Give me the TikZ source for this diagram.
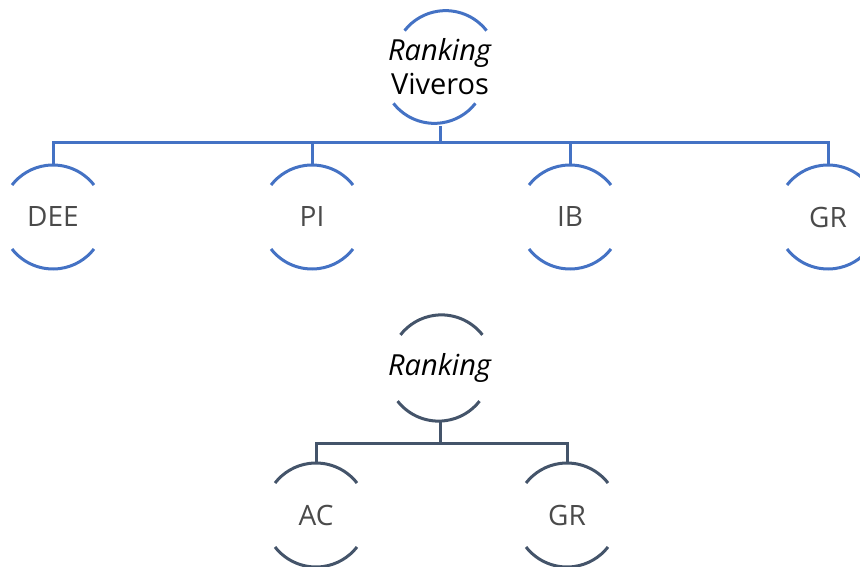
\documentclass[tikz,border=0pt]{standalone}
\usepackage{fontspec}
\setmainfont{Open Sans}
\newfontfamily\lightfont{Open Sans}[FakeBold=-0.6]
\definecolor{topblue}{HTML}{4472C4}
\definecolor{slate}{HTML}{44546A}
\definecolor{lbl}{HTML}{4A4A4A}
\tikzset{
  arcnode/.style={circle, minimum size=104pt, inner sep=0pt, outer sep=0pt},
  parentlbl/.style={font=\fontsize{29}{34}\selectfont, text=black, align=center},
  childlbl/.style={font=\lightfont\fontsize{28}{32}\selectfont, text=lbl},
  bluepen/.style={draw=topblue, line width=3pt},
  slatepen/.style={draw=slate, line width=3pt},
}
\newcommand{\arcpair}[2]{%
  \draw[#2] (#1.38) arc[start angle=38, end angle=142, radius=52pt];
  \draw[#2] (#1.218) arc[start angle=218, end angle=322, radius=52pt];
}
\begin{document}
\begin{tikzpicture}[x=1pt,y=1pt]
\useasboundingbox (0,0) rectangle (860,566);
\clip (0,0) rectangle (860,566);
% top hierarchy
\node[arcnode, parentlbl] (root) at (440,499) {\textit{Ranking}\\Viveros};
\node[arcnode, childlbl] (dee) at (53,349) {DEE};
\node[arcnode, childlbl] (pi) at (312,349) {PI};
\node[arcnode, childlbl] (ib) at (570,349) {IB};
\node[arcnode, childlbl] (gr) at (828,349) {GR};
\coordinate (bar) at (440,423);
\arcpair{root}{bluepen}
\arcpair{dee}{bluepen}
\arcpair{pi}{bluepen}
\arcpair{ib}{bluepen}
\arcpair{gr}{bluepen}
\draw[bluepen] (root.south) -- (root.south |- bar);
\draw[bluepen] (dee.north) -- (dee.north |- bar) -- (gr.north |- bar) -- (gr.north);
\draw[bluepen] (pi.north) -- (pi.north |- bar);
\draw[bluepen] (ib.north) -- (ib.north |- bar);
% bottom hierarchy
\node[arcnode, parentlbl] (rank) at (440,198) {\textit{Ranking}};
\node[arcnode, childlbl] (ac) at (316,51) {AC};
\node[arcnode, childlbl] (gr2) at (567,51) {GR};
\coordinate (bar2) at (440,123);
\arcpair{rank}{slatepen}
\arcpair{ac}{slatepen}
\arcpair{gr2}{slatepen}
\draw[slatepen] (rank.south) -- (rank.south |- bar2);
\draw[slatepen] (ac.north) -- (ac.north |- bar2) -- (gr2.north |- bar2) -- (gr2.north);
\end{tikzpicture}
\end{document}
